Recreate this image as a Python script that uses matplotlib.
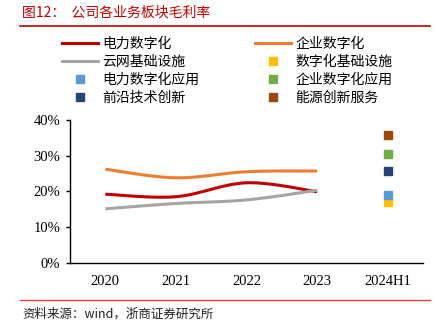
import numpy as np
import matplotlib.pyplot as plt
from matplotlib.lines import Line2D

plt.rcParams["font.family"] = ["Noto Sans CJK SC", "DejaVu Sans"]

categories = ["2020", "2021", "2022", "2023", "2024H1"]

# gross margin by segment, 2020-2023 (lines)
power_digital = [0.192, 0.185, 0.224, 0.199]
enterprise_digital = [0.262, 0.238, 0.255, 0.257]
cloud_infra = [0.151, 0.166, 0.176, 0.203]

# 2024H1 new segment breakdown (points)
h1_names = ["数字化基础设施", "电力数字化应用", "企业数字化应用", "前沿技术创新", "能源创新服务"]
h1_values = [0.170, 0.190, 0.306, 0.256, 0.359]
h1_colors = ["#FFC000", "#5B9BD5", "#70AD47", "#264478", "#9E480E"]

line_names = ["电力数字化", "企业数字化", "云网基础设施"]
line_colors = ["#C00000", "#ED7D31", "#A5A5A5"]

yticks = [0, 0.1, 0.2, 0.3, 0.4]
ytick_labels = ["0%", "10%", "20%", "30%", "40%"]

RED = "#C00000"
SERIF = "Liberation Serif"


def smooth(xs, ys, n=30):
    # catmull-rom style curve through the points, like Excel's smoothed line
    xs = np.asarray(xs, float)
    ys = np.asarray(ys, float)
    px = np.concatenate([[xs[0]], xs, [xs[-1]]])
    py = np.concatenate([[ys[0]], ys, [ys[-1]]])
    out_x, out_y = [], []
    for i in range(1, len(px) - 2):
        t = np.linspace(0, 1, n)
        for arr, p in ((out_x, px), (out_y, py)):
            p0, p1, p2, p3 = p[i - 1], p[i], p[i + 1], p[i + 2]
            m1 = (p2 - p0) / 2.0
            m2 = (p3 - p1) / 2.0
            h00 = 2 * t**3 - 3 * t**2 + 1
            h10 = t**3 - 2 * t**2 + t
            h01 = -2 * t**3 + 3 * t**2
            h11 = t**3 - t**2
            arr.extend(h00 * p1 + h10 * m1 + h01 * p2 + h11 * m2)
    return np.array(out_x), np.array(out_y)


fig = plt.figure(figsize=(4.39, 3.26), dpi=100)
ax = fig.add_axes([70 / 439, 1 - 262.7 / 326, 353 / 439, 142.7 / 326])

x_line = np.arange(4)
for vals, color in zip([power_digital, enterprise_digital, cloud_infra], line_colors):
    sx, sy = smooth(x_line, vals)
    ax.plot(sx, sy, color=color, lw=2.2, solid_capstyle="butt")

for v, c in zip(h1_values, h1_colors):
    ax.plot([4], [v], marker="s", ms=6, color=c, mec=c, ls="none")

ax.set_xlim(-0.5, 4.5)
ax.set_ylim(0, 0.4)
ax.set_xticks(range(len(categories)))
ax.set_xticklabels(categories, family=SERIF, fontsize=10.5)
ax.set_yticks(yticks)
ax.set_yticklabels(ytick_labels, family=SERIF, fontsize=10.5)
ax.tick_params(axis="x", length=0, pad=9)
ax.tick_params(axis="y", length=3, width=1, direction="out", pad=4)
for side in ["top", "right"]:
    ax.spines[side].set_visible(False)
ax.spines["left"].set_linewidth(1.0)
ax.spines["bottom"].set_linewidth(1.0)
ax.spines["bottom"].set_color("#000000")

# legend: two columns, filled row by row like the original
line_handles = [Line2D([], [], color=c, lw=2.2) for c in line_colors]
mark_handles = [Line2D([], [], marker="s", ms=6, color=c, ls="none") for c in h1_colors]
handles = line_handles + mark_handles
labels = line_names + h1_names
order = [0, 2, 4, 6, 1, 3, 5, 7]
fig.legend(
    [handles[i] for i in order], [labels[i] for i in order],
    ncol=2, loc="upper left",
    bbox_to_anchor=(62 / 439, 1 - 37 / 326),
    frameon=False, fontsize=10, handlelength=2.6, handletextpad=0.3,
    columnspacing=4.0, labelspacing=0.28, borderaxespad=0, borderpad=0,
)

# title and source with red rules
fig.text(22 / 439, 1 - 13 / 326, "图12：  公司各业务板块毛利率", color=RED,
         fontsize=10, va="center", ha="left")
fig.add_artist(Line2D([20 / 439, 430 / 439], [1 - 26 / 326] * 2, color=RED, lw=1.2))
fig.add_artist(Line2D([20 / 439, 430 / 439], [1 - 300 / 326] * 2, color="#E04040", lw=1.0))
fig.text(22 / 439, 1 - 314 / 326, "资料来源：wind，浙商证券研究所", color="#222222",
         fontsize=9, va="center", ha="left")

fig.savefig("out.png", dpi=100)
